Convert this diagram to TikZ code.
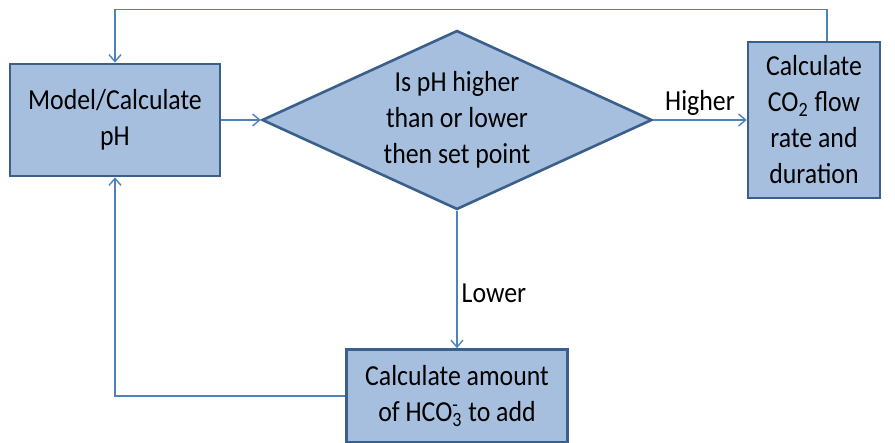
\documentclass[tikz,border=0pt]{standalone}
\usepackage{fontspec}
\setmainfont{Carlito}[FakeStretch=0.89]
\usetikzlibrary{shapes.geometric,arrows.meta}
\definecolor{boxfill}{HTML}{A7BFDE}
\definecolor{boxline}{HTML}{3A5F8B}
\definecolor{arrowline}{HTML}{4F81BD}

\begin{document}
\begin{tikzpicture}[x=0.5pt,y=0.5pt]
\fontsize{14.5}{18}\selectfont
\useasboundingbox (0,0) rectangle (895,443);
\begin{scope}[-{Straight Barb[length=3.5pt,width=6pt]},draw=arrowline,line width=0.7pt,
              block1/.style={rectangle,draw=boxline,fill=boxfill,line width=1.3pt,
                             text=black,align=center,inner sep=0pt},
              block2/.style={diamond,draw=boxline,fill=boxfill,line width=1.3pt,
                             text=black,align=center,inner sep=0pt,aspect=2.2},
              label/.style={text=black,inner sep=2pt}]
    \node [block1,minimum width=105pt,minimum height=56pt] (1) at (115,323) {Model/Calculate \\ pH};
    \node [block2,minimum width=195pt,minimum height=89.5pt] (2) at (457,323) {Is pH higher \\ than or lower \\ then set point};
    \node [block1,minimum width=66pt,minimum height=78pt] (3) at (814,323) {Calculate \\ CO\textsubscript{2} flow \\ rate and \\ duration};
    \node [block1,minimum width=110.5pt,minimum height=46.5pt] (4) at (457,47) {Calculate amount \\ of HCO\rlap{\textsuperscript{-}}\textsubscript{3} to add};
    \path (1) edge (2);
    \path (2) edge node [label,above] {Higher} (3);
    \path (2) edge node [label,right,pos=0.6] {Lower} (4);
%    feedback loops
    \draw ([xshift=6.5pt]3.north) -- ++(0,31) -| (1.north);
    \draw (4.west) -| (1.south);
\end{scope}
\end{tikzpicture}
\end{document}
